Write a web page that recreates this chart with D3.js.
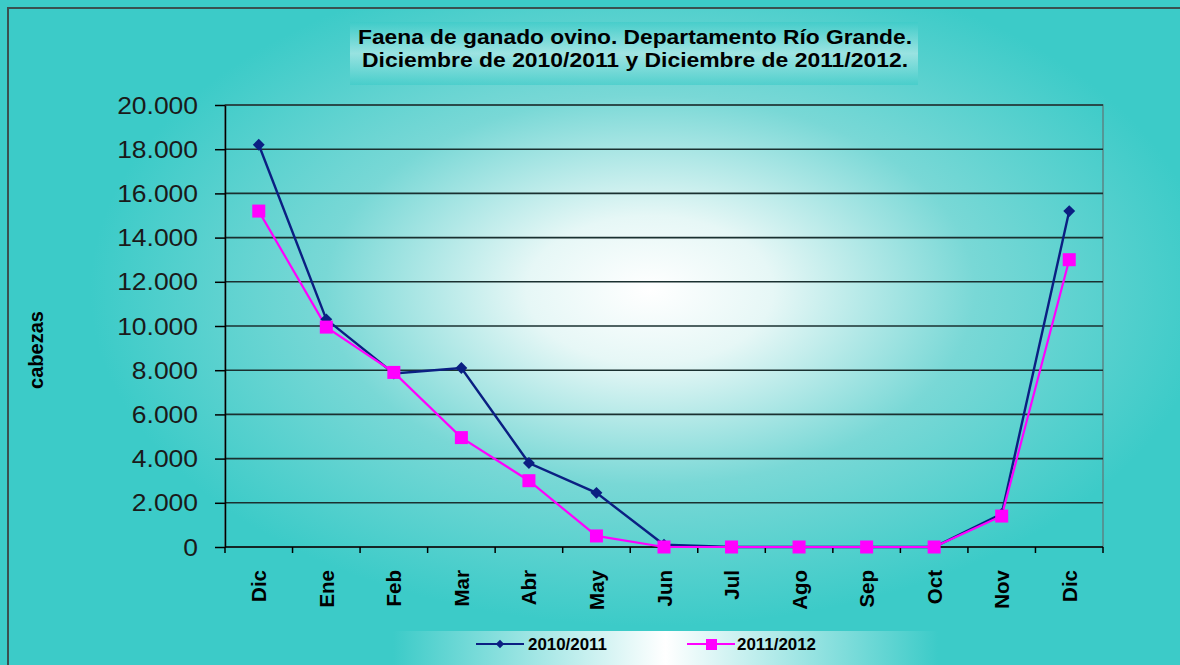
<!DOCTYPE html>
<html><head><meta charset="utf-8">
<script src="https://cdn.jsdelivr.net/npm/d3@7"></script>
<style>body{margin:0;background:#fff}svg{display:block}</style>
</head><body>
<svg id="c" width="1180" height="665"></svg>
<script>
const months = ["Dic","Ene","Feb","Mar","Abr","May","Jun","Jul","Ago","Sep","Oct","Nov","Dic"];
const series1Name = "2010/2011";
const series1 = [18200,10300,7850,8100,3800,2450,100,0,0,0,0,1500,15200];
const series2Name = "2011/2012";
const series2 = [15200,9950,7900,4950,3000,500,0,0,0,0,0,1400,13000];
const yTicks = [0,2000,4000,6000,8000,10000,12000,14000,16000,18000,20000];
const titleLines = ["Faena de ganado ovino. Departamento Río Grande.","Diciembre de 2010/2011 y Diciembre de 2011/2012."];

const FONT = "Liberation Sans, Arial, sans-serif";
const svg = d3.select("#c");
const W=1180,H=665;
const defs = svg.append("defs");
const rg = defs.append("radialGradient").attr("id","bg").attr("gradientUnits","userSpaceOnUse")
  .attr("cx",650).attr("cy",290).attr("r",560).attr("gradientTransform","translate(650,290) scale(1,0.6) translate(-650,-290)");
rg.append("stop").attr("offset","0").attr("stop-color","#ffffff");
rg.append("stop").attr("offset","0.22").attr("stop-color","#e6f7f6");
rg.append("stop").attr("offset","0.58").attr("stop-color","#79d8d6");
rg.append("stop").attr("offset","1").attr("stop-color","#3ccbc8");
const lg = defs.append("linearGradient").attr("id","lg").attr("x1","0").attr("x2","1");
lg.append("stop").attr("offset","0").attr("stop-color","#3ccbc8");
lg.append("stop").attr("offset","0.5").attr("stop-color","#ffffff");
lg.append("stop").attr("offset","1").attr("stop-color","#3ccbc8");
const tg = defs.append("linearGradient").attr("id","tg").attr("x1","0").attr("x2","0").attr("y1","0").attr("y2","1");
tg.append("stop").attr("offset","0").attr("stop-color","#3ccbc8");
tg.append("stop").attr("offset","0.5").attr("stop-color","#c8efee");
tg.append("stop").attr("offset","1").attr("stop-color","#3ccbc8");

svg.append("rect").attr("x",0).attr("y",0).attr("width",W).attr("height",H).attr("fill","#3ccbc8");
svg.append("rect").attr("x",8).attr("y",8).attr("width",W+10).attr("height",H+10)
  .attr("fill","url(#bg)").attr("stroke","#3a5050").attr("stroke-width",2);

// title
svg.append("rect").attr("x",350).attr("y",22).attr("width",568).attr("height",63).attr("fill","url(#tg)").attr("opacity",0.6);
const tl = [554,546];
svg.selectAll("text.title").data(titleLines).join("text").attr("class","title")
  .attr("x",(d,i)=>635-tl[i]/2).attr("y",(d,i)=>44+i*23)
  .attr("textLength",(d,i)=>tl[i]).attr("lengthAdjust","spacingAndGlyphs")
  .style("font-family",FONT).style("font-weight","bold").style("font-size","20px")
  .attr("fill","#000").text(d=>d);

const m={l:225,t:105,r:1103,b:547};
const x = d3.scaleBand().domain(d3.range(months.length)).range([m.l,m.r]);
const y = d3.scaleLinear().domain([0,20000]).range([m.b,m.t]);

// plot area
svg.append("rect").attr("x",m.l).attr("y",m.t).attr("width",m.r-m.l).attr("height",m.b-m.t)
  .attr("fill","none").attr("stroke","#5a8585").attr("stroke-width",1.5);
// gridlines
svg.append("g").selectAll("line").data(yTicks.slice(1)).join("line")
  .attr("x1",m.l).attr("x2",m.r).attr("y1",d=>y(d)).attr("y2",d=>y(d))
  .attr("stroke","#1a3030").attr("stroke-width",1.6);

const fmt = d=> d3.format(",")(d).replace(/,/g,".");
const ya = svg.append("g").attr("transform",`translate(${m.l},0)`)
  .call(d3.axisLeft(y).tickValues(yTicks).tickFormat(fmt).tickSize(10).tickSizeOuter(0));
ya.select(".domain").attr("stroke","#000").attr("stroke-width",1.5);
ya.selectAll(".tick line").attr("stroke","#000").attr("stroke-width",1.5);
ya.selectAll("text").style("font-family",FONT).style("font-size","23px").attr("fill","#1a1a1a")
  .attr("x",0).attr("dy","0.35em").attr("transform","translate(-27,0) scale(1.15,1)");

const xa = svg.append("g").attr("transform",`translate(0,${m.b})`);
xa.append("line").attr("x1",m.l).attr("x2",m.r).attr("y1",0).attr("y2",0).attr("stroke","#000").attr("stroke-width",1.5);
const edges = d3.range(months.length+1).map(i=>m.l+i*x.step());
xa.selectAll("line.t").data(edges).join("line").attr("class","t")
  .attr("x1",d=>d).attr("x2",d=>d).attr("y1",0).attr("y2",6).attr("stroke","#000").attr("stroke-width",1.5);
xa.selectAll("text").data(months).join("text")
  .attr("transform",(d,i)=>`translate(${x(i)+x.bandwidth()/2+7.5},23) rotate(-90)`)
  .attr("text-anchor","end")
  .style("font-family",FONT).style("font-weight","bold").style("font-size","20.5px")
  .attr("fill","#000").text(d=>d);

svg.append("text").attr("transform","translate(43,350) rotate(-90)").attr("text-anchor","middle")
  .style("font-family",FONT).style("font-weight","bold").style("font-size","20px")
  .attr("fill","#000").text("cabezas");

const cx = i=>x(i)+x.bandwidth()/2;
const line = d3.line().x((d,i)=>cx(i)).y(d=>y(d));
svg.append("path").datum(series1).attr("d",line).attr("fill","none").attr("stroke","#0b1f82").attr("stroke-width",2.4);
svg.append("path").datum(series2).attr("d",line).attr("fill","none").attr("stroke","#ff00ff").attr("stroke-width",2.2);
svg.append("g").selectAll("path").data(series1).join("path")
  .attr("d",d3.symbol(d3.symbolDiamond2,90)).attr("transform",(d,i)=>`translate(${cx(i)},${y(d)})`).attr("fill","#0b1f82");
svg.append("g").selectAll("rect").data(series2).join("rect")
  .attr("x",(d,i)=>cx(i)-6.5).attr("y",d=>y(d)-6.5).attr("width",13).attr("height",13).attr("fill","#ff00ff");

// legend
svg.append("rect").attr("x",393).attr("y",631).attr("width",545).attr("height",36).attr("fill","url(#lg)");
const leg = [{n:series1Name,c:"#0b1f82",s:"d",x:476,tx:528},{n:series2Name,c:"#ff00ff",s:"s",x:687,tx:737}];
leg.forEach(l=>{
  svg.append("line").attr("x1",l.x).attr("x2",l.x+48).attr("y1",644).attr("y2",644).attr("stroke",l.c).attr("stroke-width",2.2);
  if(l.s==="d") svg.append("path").attr("d",d3.symbol(d3.symbolDiamond2,45)).attr("transform",`translate(${l.x+24},644)`).attr("fill",l.c);
  else svg.append("rect").attr("x",l.x+19).attr("y",639).attr("width",11).attr("height",11).attr("fill",l.c);
  svg.append("text").attr("x",l.tx).attr("y",650).attr("textLength",79).attr("lengthAdjust","spacingAndGlyphs")
    .style("font-family",FONT).style("font-weight","bold").style("font-size","17px").attr("fill","#000").text(l.n);
});
</script>
</body></html>
